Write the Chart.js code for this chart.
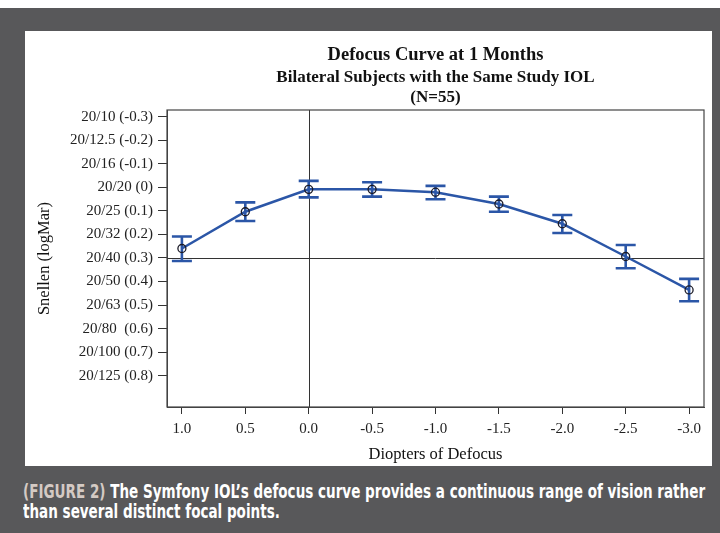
<!DOCTYPE html>
<html>
<head>
<meta charset="UTF-8" />
<title>Defocus Curve at 1 Months</title>
<script src="https://cdn.jsdelivr.net/npm/chart.js@4.4.1/dist/chart.umd.min.js"></script>
<style>
  body { margin: 0; background: #fff; width: 720px; height: 533px; overflow: hidden; position: relative; }
  .frame { position: absolute; left: 0; top: 8px; width: 720px; height: 525px; background: #58585a; }
  .panel { position: absolute; left: 25px; top: 31px; width: 687px; height: 435px; background: #fff; }
  .caption {
    position: absolute; left: 23px; top: 481px;
    font-family: "Liberation Sans Narrow", "DejaVu Sans Condensed", "Roboto", sans-serif;
    font-weight: bold; font-size: 20px; line-height: 20px; color: #fff;
    white-space: nowrap; transform-origin: 0 0;
  }
  .caption span { display: inline-block; }
  .tag { color: #d4cac4; }
</style>
</head>
<body>
<div class="frame"></div>
<div class="panel"><canvas id="myChart" width="687" height="435"></canvas></div>
<div class="caption" id="caption"><span id="line1"><b class="tag">(FIGURE 2)</b> The Symfony IOL’s defocus curve provides a continuous range of vision rather</span><br><span>than several distinct focal points.</span></div>

<script>
// chart data (logMAR values)
const titleLines = ['Defocus Curve at 1 Months', 'Bilateral Subjects with the Same Study IOL', '(N=55)'];
const defocus = [1.0, 0.5, 0.0, -0.5, -1.0, -1.5, -2.0, -2.5, -3.0];
const meanVA = [0.260, 0.104, 0.009, 0.009, 0.021, 0.071, 0.155, 0.294, 0.436];
const lowVA = [0.209, 0.064, -0.027, -0.021, -0.006, 0.040, 0.118, 0.245, 0.389];
const highVA = [0.313, 0.143, 0.043, 0.040, 0.051, 0.104, 0.194, 0.344, 0.484];
const yTickValues = [-0.3, -0.2, -0.1, 0, 0.1, 0.2, 0.3, 0.4, 0.5, 0.6, 0.7, 0.8];
const yTickLabels = ['20/10 (-0.3)', '20/12.5 (-0.2)', '20/16 (-0.1)', '20/20 (0)', '20/25 (0.1)', '20/32 (0.2)',
  '20/40 (0.3)', '20/50 (0.4)', '20/63 (0.5)', '20/80  (0.6)', '20/100 (0.7)', '20/125 (0.8)'];
const refX = 0.0;
const refY = 0.3;

const serif = '"Liberation Serif", "Times New Roman", serif';
const blue = '#2b56a7';

// titles, error bars, reference lines and frame
const extras = {
  id: 'extras',
  beforeDatasetsDraw(chart) {
    const ctx = chart.ctx, a = chart.chartArea;
    const xs = chart.scales.x, ys = chart.scales.y;
    ctx.save();
    // reference lines
    ctx.strokeStyle = '#333';
    ctx.lineWidth = 1;
    ctx.beginPath();
    const rx = Math.round(xs.getPixelForValue(refX)) + 0.5;
    const ry = Math.round(ys.getPixelForValue(refY)) + 0.5;
    ctx.moveTo(rx, a.top); ctx.lineTo(rx, a.bottom);
    ctx.moveTo(a.left, ry); ctx.lineTo(a.right, ry);
    ctx.stroke();
    // frame
    ctx.strokeStyle = '#444';
    ctx.lineWidth = 1.2;
    ctx.strokeRect(a.left, a.top, a.right - a.left, a.bottom - a.top);
    // error bars
    ctx.strokeStyle = blue;
    ctx.lineWidth = 2.6;
    const cap = 10;
    defocus.forEach((d, i) => {
      const px = xs.getPixelForValue(d);
      const y1 = ys.getPixelForValue(lowVA[i]);
      const y2 = ys.getPixelForValue(highVA[i]);
      ctx.beginPath();
      ctx.moveTo(px, y1); ctx.lineTo(px, y2);
      ctx.moveTo(px - cap, y1); ctx.lineTo(px + cap, y1);
      ctx.moveTo(px - cap, y2); ctx.lineTo(px + cap, y2);
      ctx.stroke();
    });
    // titles
    const cx = (a.left + a.right) / 2;
    ctx.fillStyle = '#111';
    ctx.textAlign = 'center';
    ctx.textBaseline = 'middle';
    ctx.font = 'bold 18.5px ' + serif;
    ctx.fillText(titleLines[0], cx, a.top - 55);
    ctx.font = 'bold 17px ' + serif;
    ctx.fillText(titleLines[1], cx, a.top - 32);
    ctx.fillText(titleLines[2], cx, a.top - 12);
    ctx.restore();
  }
};

const ctx = document.getElementById('myChart').getContext('2d');
const myChart = new Chart(ctx, {
  type: 'line',
  data: {
    datasets: [{
      data: defocus.map((d, i) => ({ x: d, y: meanVA[i] })),
      borderColor: blue,
      borderWidth: 2.5,
      pointRadius: 4,
      pointBorderWidth: 1.3,
      pointBorderColor: '#1b1b28',
      pointBackgroundColor: 'rgba(0,0,0,0)',
      tension: 0
    }]
  },
  options: {
    responsive: false,
    animation: false,
    layout: { padding: { left: 0, right: 8, top: 79, bottom: 0 } },
    plugins: { legend: { display: false }, tooltip: { enabled: false } },
    scales: {
      x: {
        type: 'linear', reverse: true, min: -3.1175, max: 1.1175,
        afterBuildTicks: s => { s.ticks = defocus.map(v => ({ value: v })); },
        afterFit: s => { s.height = 59; },
        grid: { drawOnChartArea: false, drawTicks: true, tickLength: 7, color: '#333' },
        border: { display: true, color: '#444' },
        ticks: { color: '#222', font: { family: serif, size: 15 }, padding: 6, maxRotation: 0,
          callback: v => v.toFixed(1) },
        title: { display: true, text: 'Diopters of Defocus', color: '#111',
          font: { family: serif, size: 16.5 }, padding: { top: 2, bottom: 1 } }
      },
      y: {
        type: 'linear', reverse: true, min: -0.328, max: 0.933,
        afterBuildTicks: s => { s.ticks = yTickValues.map(v => ({ value: v })); },
        afterFit: s => { s.width = 142; },
        grid: { drawOnChartArea: false, drawTicks: true, tickLength: 9, color: '#333' },
        border: { display: true, color: '#444' },
        ticks: { color: '#222', font: { family: serif, size: 15 }, padding: 5,
          callback: (v, i) => yTickLabels[i] },
        title: { display: true, text: 'Snellen (logMar)', color: '#111',
          font: { family: serif, size: 16.5 }, padding: { top: 10, bottom: 0 } }
      }
    }
  },
  plugins: [extras]
});

// fit the caption to the width of the figure
const cap = document.getElementById('caption');
const w = document.getElementById('line1').offsetWidth;
cap.style.transform = 'scaleX(' + (682 / w) + ')';
</script>
</body>
</html>
